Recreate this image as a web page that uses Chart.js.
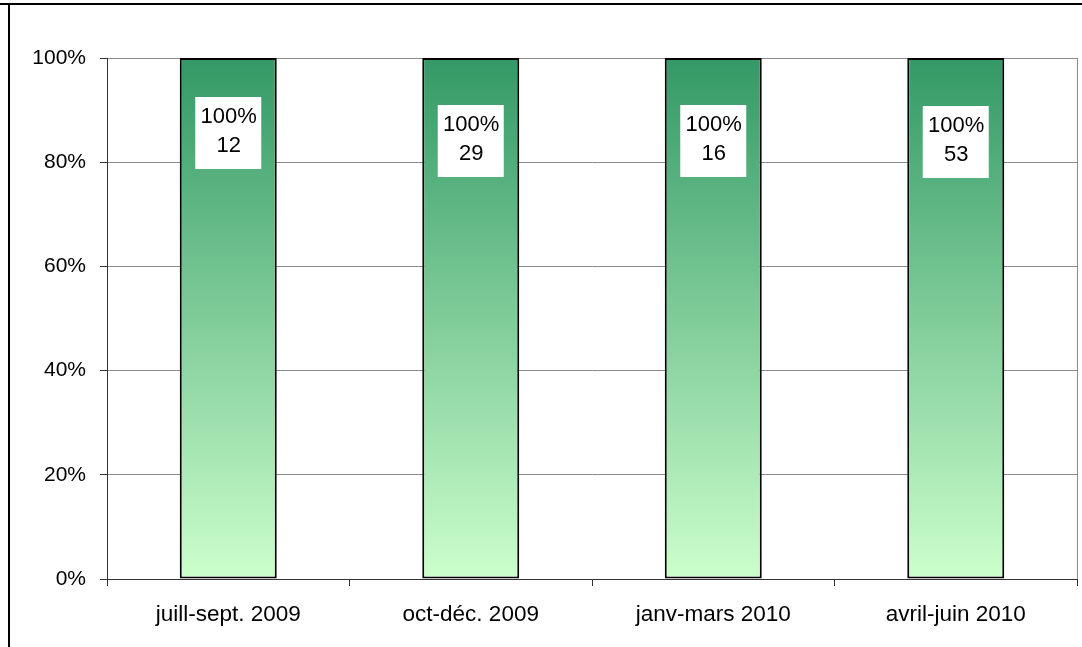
<!DOCTYPE html>
<html>
<head>
<meta charset="utf-8">
<script src="https://cdn.jsdelivr.net/npm/chart.js@4/dist/chart.umd.min.js"></script>
<style>
  html, body { margin: 0; padding: 0; background: #fff; }
  #wrap { width: 1082px; height: 647px; position: relative; }
</style>
</head>
<body>
<div id="wrap"><canvas id="chart"></canvas></div>
<script>
// trimestres
const periods = ["juill-sept. 2009", "oct-déc. 2009", "janv-mars 2010", "avril-juin 2010"];
// part en % et effectif par trimestre
const shares = [100, 100, 100, 100];
const counts = [12, 29, 16, 53];
// graduations de l'axe vertical
const yTicks = [0, 20, 40, 60, 80, 100];

const FONT = "'Liberation Sans', Arial, sans-serif";

// cadre extérieur (trait en haut et à gauche) + bord du tracé
const framePlugin = {
  id: "frame",
  beforeDraw(chart) {
    const ctx = chart.ctx;
    ctx.save();
    ctx.fillStyle = "#fff";
    ctx.fillRect(0, 0, chart.width, chart.height);
    ctx.fillStyle = "#000";
    ctx.fillRect(0, 3, chart.width, 2);
    ctx.fillRect(8, 3, 2, chart.height);
    const a = chart.chartArea;
    ctx.strokeStyle = "#8c8c8c";
    ctx.lineWidth = 1;
    ctx.strokeRect(a.left + 0.5, a.top + 0.5, a.right - a.left, a.bottom - a.top);
    ctx.restore();
  }
};

// étiquettes "100%\nN" dans un cadre blanc
const boxLabels = {
  id: "boxLabels",
  afterDatasetsDraw(chart, args, opts) {
    const ctx = chart.ctx;
    const bars = chart.getDatasetMeta(0).data;
    ctx.save();
    ctx.font = "22px " + FONT;
    ctx.textAlign = "center";
    ctx.textBaseline = "middle";
    bars.forEach((bar, i) => {
      const top = bar.y + opts.offsets[i];
      ctx.fillStyle = "#fff";
      ctx.fillRect(bar.x - 33, top, 66, 72);
      ctx.fillStyle = "#000";
      ctx.fillText(shares[i] + "%", bar.x + 0.5, top + 20);
      ctx.fillText(String(counts[i]), bar.x + 0.5, top + 49);
    });
    ctx.restore();
  }
};

function barGradient(context) {
  const area = context.chart.chartArea;
  if (!area) return "#66b27f";
  const g = context.chart.ctx.createLinearGradient(0, area.bottom, 0, area.top);
  g.addColorStop(0, "#ccffcc");
  g.addColorStop(1, "#339966");
  return g;
}

const chart = new Chart(document.getElementById("chart"), {
  type: "bar",
  data: {
    labels: periods,
    datasets: [{
      data: shares,
      backgroundColor: barGradient,
      borderColor: "#000",
      borderWidth: 2,
      borderSkipped: false,
      barPercentage: 0.4,
      categoryPercentage: 1
    }]
  },
  options: {
    responsive: true,
    maintainAspectRatio: false,
    animation: false,
    layout: { padding: { top: 58, right: 5, left: 0, bottom: 0 } },
    plugins: {
      legend: { display: false },
      tooltip: { enabled: false },
      boxLabels: { offsets: [39, 47, 47, 48] }
    },
    scales: {
      x: {
        grid: { display: true, drawOnChartArea: false, offset: true, tickLength: 7, tickColor: "#333" },
        border: { color: "#333", width: 1 },
        ticks: { color: "#000", font: { family: FONT, size: 22.5 }, padding: 15, maxRotation: 0 },
        afterFit(scale) { scale.height = 68; }
      },
      y: {
        min: 0,
        max: 100,
        afterBuildTicks(scale) { scale.ticks = yTicks.map(v => ({ value: v })); },
        grid: { color: "#8c8c8c", lineWidth: 1, tickLength: 7, tickColor: "#333" },
        border: { color: "#333", width: 1 },
        ticks: {
          color: "#000",
          font: { family: FONT, size: 21 },
          padding: 14,
          callback: v => v + "%"
        },
        afterFit(scale) { scale.width = 107; }
      }
    }
  },
  plugins: [framePlugin, boxLabels]
});
</script>
</body>
</html>
